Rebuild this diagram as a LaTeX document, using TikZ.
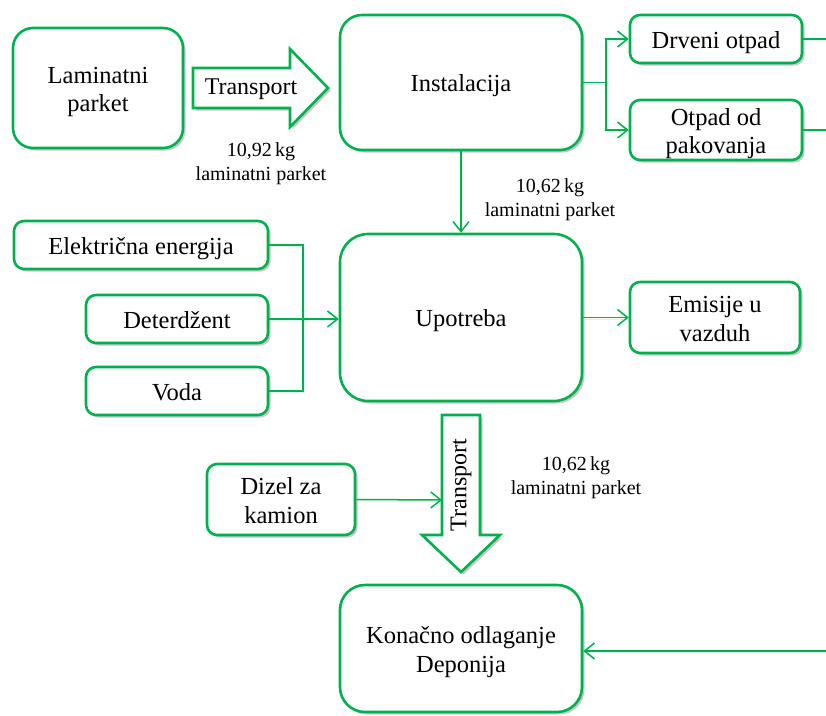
\documentclass[tikz,border=0pt]{standalone}
\usepackage{fontspec}
\setmainfont{Liberation Serif}
\usetikzlibrary{arrows.meta,shadows}
\definecolor{leaf}{HTML}{00B050}
% two centred lines, raised so the pair sits in the middle of its box
\newcommand{\boxlines}[2]{\raisebox{14.5pt}[0pt][0pt]{\begin{tabular}[t]{@{}c@{}}#1\\#2\end{tabular}}}

\begin{document}
\begin{tikzpicture}[x=1pt,y=-1pt,
  soft/.style={drop shadow={shadow xshift=2.5pt,shadow yshift=-2.5pt,opacity=0.22,fill=black}},
  box/.style={draw=leaf,line width=2.6pt,fill=white,align=center,inner sep=0pt,
    rounded corners=#1,font=\rmfamily\fontsize{24.5}{28.5}\selectfont,soft,
    execute at begin node={\rule{0pt}{24pt}},
    execute at end node={\rule[-5pt]{0pt}{0pt}}},
  box/.default=10pt,
  pair/.style={execute at begin node={},execute at end node={}},
  block/.style={draw=leaf,line width=2.6pt,fill=white,line join=miter,soft},
  label/.style={inner sep=0pt,font=\rmfamily\fontsize{24}{28}\selectfont},
  note/.style={align=center,inner sep=0pt,font=\rmfamily\fontsize{20}{24}\selectfont},
  wire/.style={draw=leaf,line width=1.5pt,
    preaction={draw=black,opacity=0.08,transform canvas={shift={(1.5pt,-1.5pt)}}}},
  arr/.style={wire,-{Straight Barb[length=10pt,width=16pt,line width=1.5pt]}}
]
\useasboundingbox (0,0) rectangle (826,715);

% process boxes
\node[box=20pt,pair,minimum width=170pt,minimum height=120pt] (lam) at (98,88) {\boxlines{Laminatni}{parket}};
\node[box=22pt,minimum width=242pt,minimum height=135pt] (inst) at (461,82.5) {Instalacija};
\node[box,minimum width=172pt,minimum height=48pt] (drv) at (716,39) {Drveni otpad};
\node[box,pair,minimum width=172pt,minimum height=60pt] (otp) at (716,130) {\boxlines{Otpad od}{pakovanja}};
\node[box,minimum width=254pt,minimum height=48pt] (ele) at (141,245) {Električna energija};
\node[box,minimum width=182pt,minimum height=48pt] (det) at (177,319) {Deterdžent};
\node[box,minimum width=182pt,minimum height=48pt] (vod) at (177,391) {Voda};
\node[box=28pt,minimum width=242pt,minimum height=167pt] (upo) at (461,317.5) {Upotreba};
\node[box,pair,minimum width=170pt,minimum height=71pt] (emi) at (715,317.5) {\boxlines{Emisije u}{vazduh}};
\node[box,pair,minimum width=148pt,minimum height=71pt] (diz) at (281,499.5) {\boxlines{Dizel za}{kamion}};
\node[box=25pt,pair,minimum width=242pt,minimum height=127pt] (kon) at (461,648.5) {\boxlines{Konačno odlaganje}{Deponija}};

% block arrows for transport
\draw[block] (193,68) -- (290,68) -- (290,49) -- (328,88) -- (290,127) -- (290,108) -- (193,108) -- cycle;
\node[label] (tr1) at (251,89) {Transport};
\draw[block] (442,415) -- (480,415) -- (480,535) -- (500,535) -- (461,572) -- (422,535) -- (442,535) -- cycle;
\node[label,rotate=90] (tr2) at (461,485) {Transport};
\coordinate (tr2in) at (442,500);

% quantities
\node[note] (q1) at (261,164) {10,92\,kg\\laminatni parket};
\node[note] (q2) at (550,199.5) {10,62\,kg\\laminatni parket};
\node[note] (q3) at (576,478) {10,62\,kg\\laminatni parket};

% connectors
\coordinate (split) at (606,82.5);
\draw[wire] (inst.east) -- (split);
\draw[arr] (split) |- (drv.west);
\draw[arr] (split) |- (otp.west);
\coordinate (drvout) at (830,39);
\coordinate (otpout) at (830,130);
\draw[wire] (drv.east) -- (drvout);
\draw[wire] (otp.east) -- (otpout);

\draw[arr] (inst.south) -- (upo.north);

\coordinate (busT) at (303,245);
\coordinate (busB) at (303,391);
\draw[wire] (ele.east) -- (busT) -- (busB) -- (vod.east);
\draw[arr] (det.east) -- (det.east -| upo.west);
\draw[arr] (upo.east) -- (upo.east -| emi.west);

\draw[arr] (diz.east) -- (tr2in);

\coordinate (ret) at (830,651);
\draw[arr] (ret) -- (ret -| kon.east);
\end{tikzpicture}
\end{document}
